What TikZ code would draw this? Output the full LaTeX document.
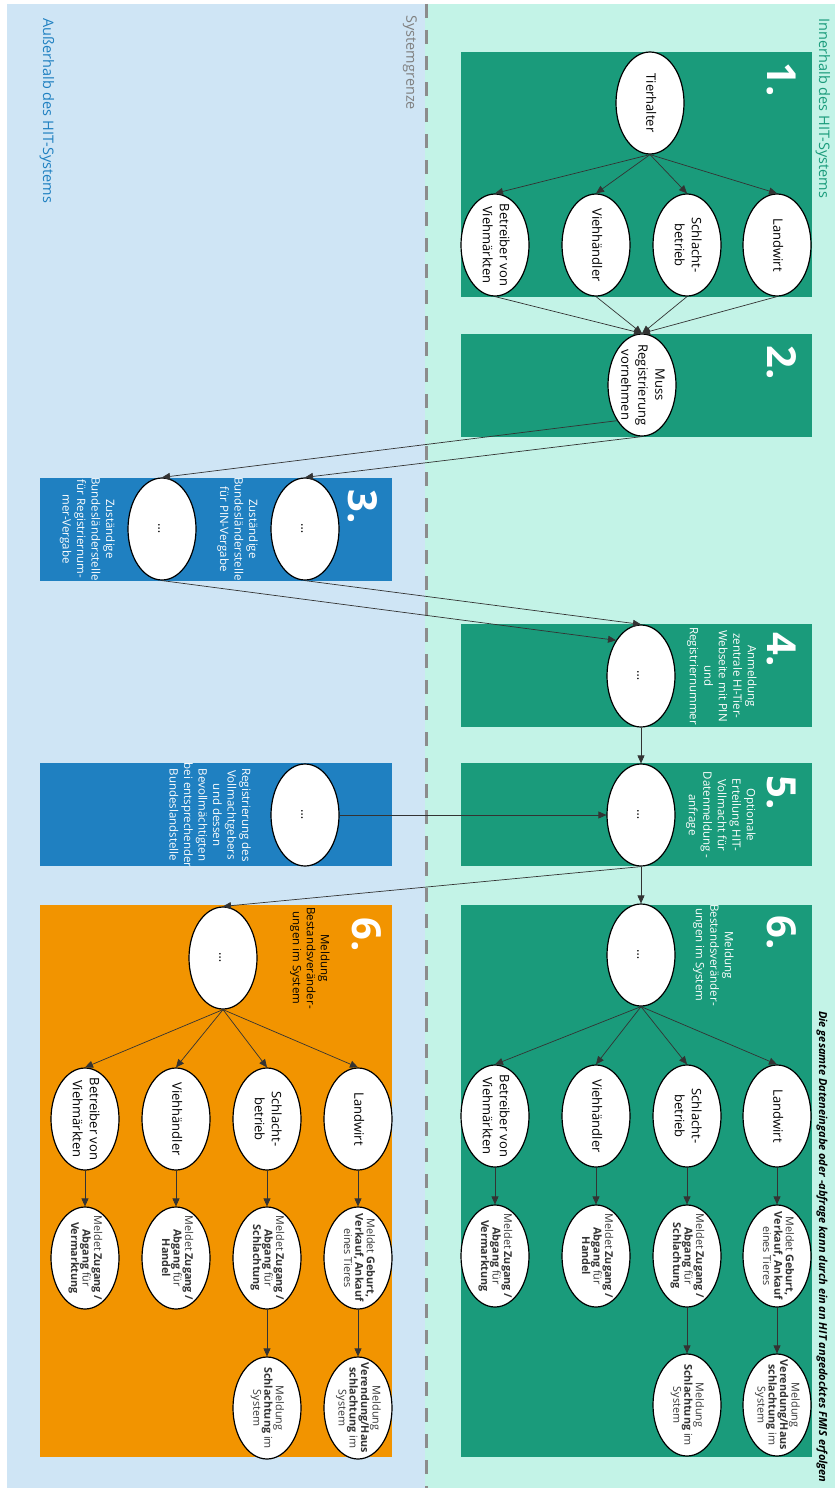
\documentclass[tikz,border=0pt]{standalone}
\usepackage{fontspec}
\setmainfont{Open Sans}
\usetikzlibrary{shapes.geometric,arrows.meta,positioning}

\definecolor{mint}{HTML}{C3F3E7}
\definecolor{skyblue}{HTML}{CFE5F5}
\definecolor{hitgreen}{HTML}{1A9B7B}
\definecolor{landblue}{HTML}{1F80C1}
\definecolor{meldorange}{HTML}{F29400}

% fixed-size ellipse content: text may run over the border
\newcommand{\inell}[1]{\makebox[0pt]{\smash{\raisebox{-.25em}{\begin{tabular}{@{}c@{}}#1\end{tabular}}}}}

\begin{document}
\begin{tikzpicture}[
  x=1pt, y=1pt, rotate=-90, transform shape,
  actor/.style={draw=black,line width=1.2pt,fill=white,ellipse,minimum width=102pt,minimum height=68pt,inner sep=0pt,font=\fontsize{13}{17}\selectfont},
  report/.style={actor,text=black!80,font=\fontsize{10.8}{11}\selectfont},
  stepno/.style={text=white,font=\fontsize{40}{40}\selectfont\bfseries},
  note/.style={text=white,align=center,font=\fontsize{11.5}{14.5}\selectfont},
  arrow/.style={-{Triangle[length=8pt,width=7pt]},draw=black!80,line width=0.7pt}
]
  \useasboundingbox (0,0) rectangle (1488,835);

  % system areas
  \fill[skyblue] (4,7) rectangle (1488,425);
  \fill[mint] (4,425) rectangle (1488,835);
  \draw[black!45,line width=3pt,dash pattern=on 14pt off 12pt] (4,426) -- (1488,426);
  \node (inside) [anchor=west,text=hitgreen,font=\fontsize{14.5}{16}\selectfont] at (15,823) {Innerhalb des HIT-Systems};
  \node (outside) [anchor=west,text=landblue,font=\fontsize{14.5}{16}\selectfont] at (15,47) {Außerhalb des HIT-Systems};
  \node (border) [anchor=west,text=black!50,font=\fontsize{14.5}{16}\selectfont] at (12,410) {Systemgrenze};
  \node (fmis) [anchor=east,font=\fontsize{11}{12}\selectfont\bfseries\itshape] at (1486,822) {Die gesamte Dateneingabe oder -abfrage kann durch ein an HIT angedocktes FMIS erfolgen};

  % step boxes
  \fill[hitgreen] (52,461) rectangle (297,812);
  \fill[hitgreen] (334,461) rectangle (437,812);
  \fill[landblue] (478,40) rectangle (581,392);
  \fill[hitgreen] (624,461) rectangle (727,812);
  \fill[hitgreen] (763,461) rectangle (866,812);
  \fill[landblue] (763,40) rectangle (866,392);
  \fill[hitgreen] (905,461) rectangle (1457,812);
  \fill[meldorange] (905,40) rectangle (1457,392);

  \node (no1) [stepno] at (80,782) {1.};
  \node (no2) [stepno] at (363,782) {2.};
  \node (no3) [stepno] at (507,363) {3.};
  \node (no4) [stepno] at (650,782) {4.};
  \node (no5) [stepno] at (793,782) {5.};
  \node (no6) [stepno] at (933,782) {6.};
  \node (no6o) [stepno] at (935,367) {6.};

  % 1. who has to register
  \node (tierhalter) [actor] at (103,650) {\inell{Tierhalter}};
  \node (lw) [actor] at (245,777) {\inell{Landwirt}};
  \node (sb) [actor] at (245,687) {\inell{Schlacht-\\betrieb}};
  \node (vh) [actor] at (245,596) {\inell{Viehhändler}};
  \node (bm) [actor] at (245,495) {\inell{Betreiber von\\Viehmärkten}};

  % 2. + 3. registration
  \node (muss) [actor] at (385,642) {\inell{Muss\\Registrierung\\vornehmen}};
  \node (pin) [actor] at (529,305) {\inell{\dots}};
  \node (regnr) [actor] at (529,162) {\inell{\dots}};
  \node (pintxt) [note,below=9pt of pin] {Zuständige\\Bundesländerstelle\\für PIN-Vergabe};
  \node (regnrtxt) [note,below=9pt of regnr] {Zuständige\\Bundesländerstelle\\für Registriernum-\\mer-Vergabe};

  % 4. + 5. login and authorisation
  \node (login) [actor] at (676,641) {\inell{\dots}};
  \node (logintxt) [note,above=8pt of login] {Anmeldung\\zentrale HI-Tier-\\Webseite mit PIN\\und\\Registriernummer};
  \node (vollm) [actor] at (815,641) {\inell{\dots}};
  \node (vollmtxt) [note,above=7pt of vollm] {Optionale\\Erteilung HIT-\\Vollmacht für\\Datenmeldung -\\anfrage};
  \node (bevollm) [actor] at (815,305) {\inell{\dots}};
  \node (bevollmtxt) [note,below=16pt of bevollm] {Registrierung des\\Vollmachtgebers\\und dessen\\Bevollmächtigten\\bei entsprechender\\Bundeslandstelle};

  % 6. reports inside the system
  \node (meld) [actor] at (955,641) {\inell{\dots}};
  \node (meldtxt) [note,above=14pt of meld] {Meldung\\Bestandsveränder-\\ungen im System};
  \node (lwG) [actor] at (1116,777) {\inell{Landwirt}};
  \node (sbG) [actor] at (1116,687) {\inell{Schlacht-\\betrieb}};
  \node (vhG) [actor] at (1116,596) {\inell{Viehhändler}};
  \node (bmG) [actor] at (1116,495) {\inell{Betreiber von\\Viehmärkten}};
  \node (lwGa) [report] at (1256,777) {\inell{Meldet \textbf{Geburt,}\\\textbf{Verkauf, Ankauf}\\eines Tieres}};
  \node (sbGa) [report] at (1256,687) {\inell{Meldet \textbf{Zugang /}\\\textbf{Abgang} für\\\textbf{Schlachtung}}};
  \node (vhGa) [report] at (1256,596) {\inell{Meldet \textbf{Zugang /}\\\textbf{Abgang} für\\\textbf{Handel}}};
  \node (bmGa) [report] at (1256,495) {\inell{Meldet \textbf{Zugang /}\\\textbf{Abgang} für\\\textbf{Vermarktung}}};
  \node (lwGb) [report] at (1405,777) {\inell{Meldung\\\textbf{Verendung/Haus}\\\textbf{schlachtung} im\\System}};
  \node (sbGb) [report] at (1405,687) {\inell{Meldung\\\textbf{Schlachtung} im\\System}};

  % 6. reports outside the system
  \node (meldO) [actor] at (958,223) {\inell{\dots}};
  \node (meldOtxt) [note,text=black,font=\fontsize{11.5}{14}\selectfont,above=29pt of meldO] {Meldung\\Bestandsveränder-\\ungen im System};
  \node (lwO) [actor] at (1119,358) {\inell{Landwirt}};
  \node (sbO) [actor] at (1119,267) {\inell{Schlacht-\\betrieb}};
  \node (vhO) [actor] at (1119,176) {\inell{Viehhändler}};
  \node (bmO) [actor] at (1119,85) {\inell{Betreiber von\\Viehmärkten}};
  \node (lwOa) [report] at (1258,358) {\inell{Meldet \textbf{Geburt,}\\\textbf{Verkauf, Ankauf}\\eines Tieres}};
  \node (sbOa) [report] at (1258,267) {\inell{Meldet \textbf{Zugang /}\\\textbf{Abgang} für\\\textbf{Schlachtung}}};
  \node (vhOa) [report] at (1258,176) {\inell{Meldet \textbf{Zugang /}\\\textbf{Abgang} für\\\textbf{Handel}}};
  \node (bmOa) [report] at (1258,85) {\inell{Meldet \textbf{Zugang /}\\\textbf{Abgang} für\\\textbf{Vermarktung}}};
  \node (lwOb) [report] at (1408,358) {\inell{Meldung\\\textbf{Verendung/Haus}\\\textbf{schlachtung} im\\System}};
  \node (sbOb) [report] at (1408,267) {\inell{Meldung\\\textbf{Schlachtung} im\\System}};

  \draw[arrow] (tierhalter.east) -- (lw.west);
  \draw[arrow] (tierhalter.east) -- (sb.west);
  \draw[arrow] (tierhalter.east) -- (vh.west);
  \draw[arrow] (tierhalter.east) -- (bm.west);
  \draw[arrow] (lw.east) -- (muss.west);
  \draw[arrow] (sb.east) -- (muss.west);
  \draw[arrow] (vh.east) -- (muss.west);
  \draw[arrow] (bm.east) -- (muss.west);
  \draw[arrow] (muss.east) -- (pin.west);
  \draw[arrow] (muss.-35) -- (regnr.west);
  \draw[arrow] (pin.east) -- (login.west);
  \draw[arrow] (regnr.east) -- (login.215);
  \draw[arrow] (login.east) -- (vollm.west);
  \draw[arrow] (bevollm.north) -- (vollm.south);
  \draw[arrow] (vollm.east) -- (meld.west);
  \draw[arrow] (vollm.east) -- (meldO.west);

  \draw[arrow] (meld.east) -- (lwG.west);
  \draw[arrow] (meld.east) -- (sbG.west);
  \draw[arrow] (meld.east) -- (vhG.west);
  \draw[arrow] (meld.east) -- (bmG.west);
  \draw[arrow] (lwG) -- (lwGa);
  \draw[arrow] (sbG) -- (sbGa);
  \draw[arrow] (vhG) -- (vhGa);
  \draw[arrow] (bmG) -- (bmGa);
  \draw[arrow] (lwGa) -- (lwGb);
  \draw[arrow] (sbGa) -- (sbGb);

  \draw[arrow] (meldO.east) -- (lwO.west);
  \draw[arrow] (meldO.east) -- (sbO.west);
  \draw[arrow] (meldO.east) -- (vhO.west);
  \draw[arrow] (meldO.east) -- (bmO.west);
  \draw[arrow] (lwO) -- (lwOa);
  \draw[arrow] (sbO) -- (sbOa);
  \draw[arrow] (vhO) -- (vhOa);
  \draw[arrow] (bmO) -- (bmOa);
  \draw[arrow] (lwOa) -- (lwOb);
  \draw[arrow] (sbOa) -- (sbOb);
\end{tikzpicture}
\end{document}
